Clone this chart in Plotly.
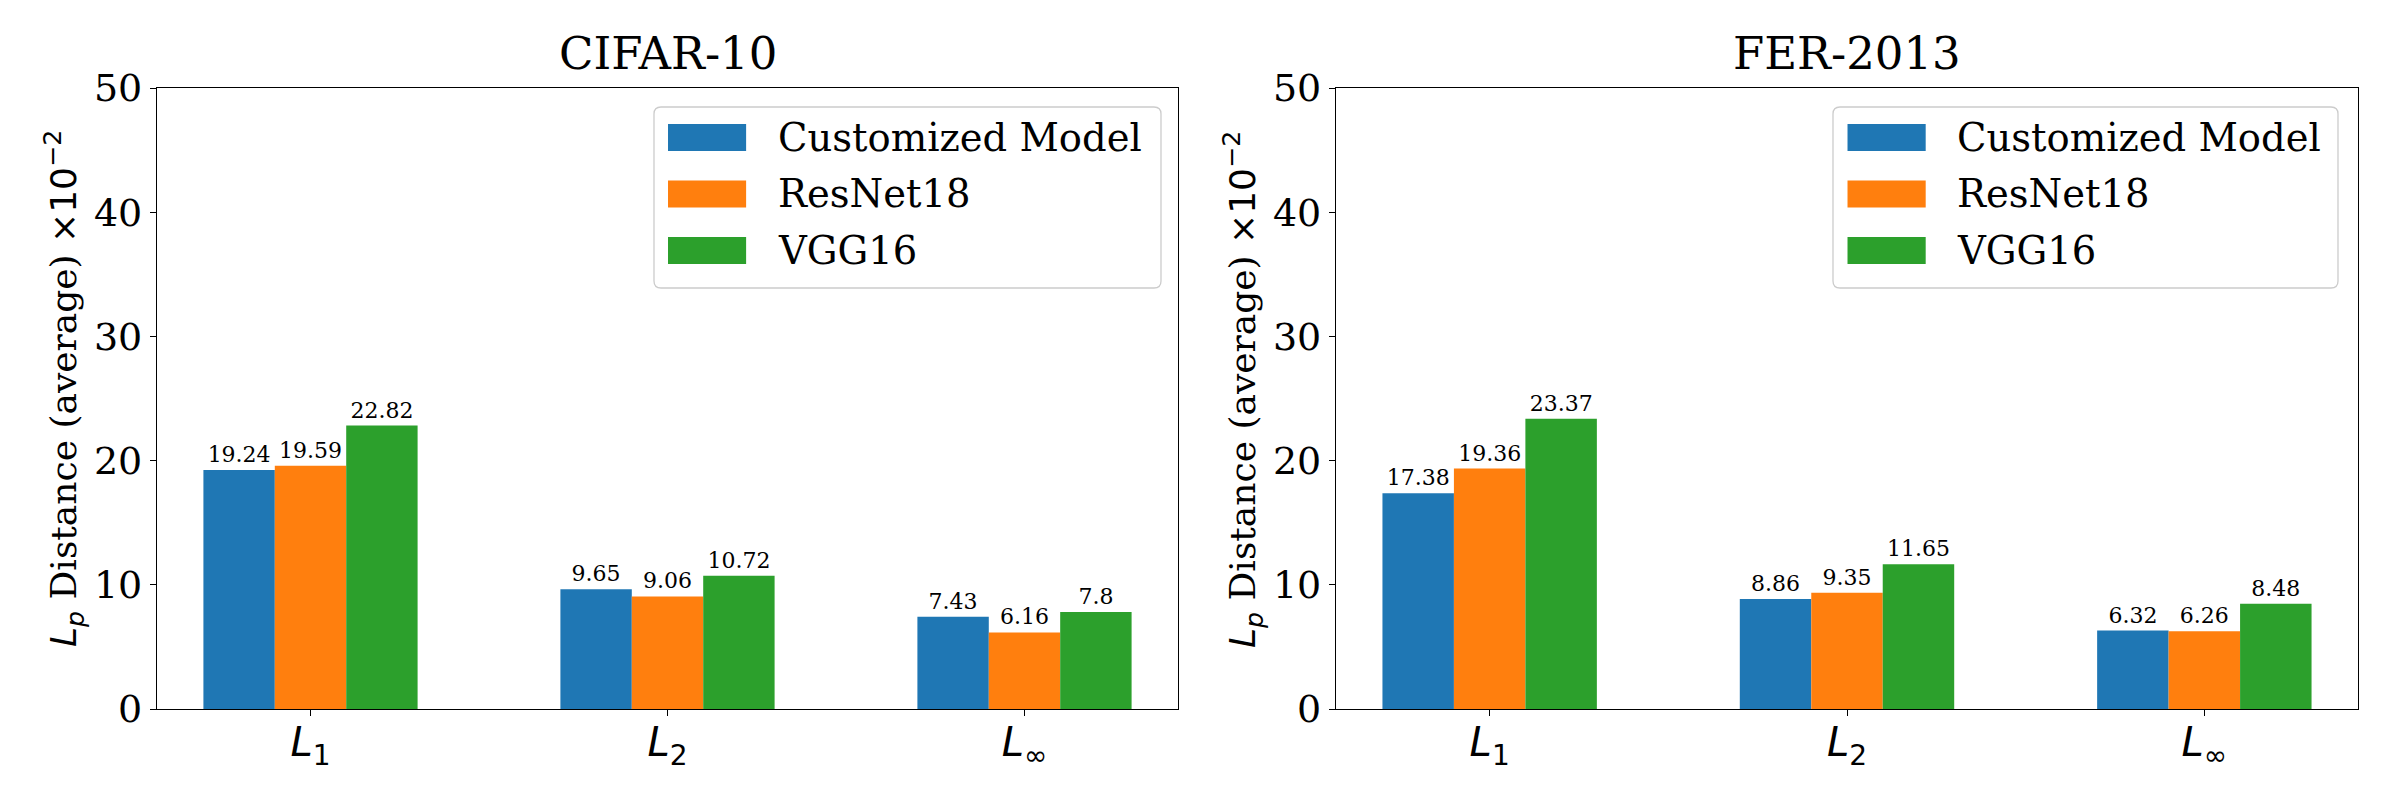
import plotly.graph_objects as go

categories = ["L1", "L2", "Linf"]
tick_labels = ["<i>L</i><sub>1</sub>", "<i>L</i><sub>2</sub>", "<i>L</i><sub>∞</sub>"]
series_names = ["Customized Model", "ResNet18", "VGG16"]
colors = ["#1f77b4", "#ff7f0e", "#2ca02c"]
panel_titles = ["CIFAR-10", "FER-2013"]

cifar_custom = [19.24, 9.65, 7.43]
cifar_resnet = [19.59, 9.06, 6.16]
cifar_vgg = [22.82, 10.72, 7.8]

fer_custom = [17.38, 8.86, 6.32]
fer_resnet = [19.36, 9.35, 6.26]
fer_vgg = [23.37, 11.65, 8.48]

panels = [[cifar_custom, cifar_resnet, cifar_vgg], [fer_custom, fer_resnet, fer_vgg]]

SERIF = "DejaVu Serif"
SANS = "DejaVu Sans"
W, H = 2400, 800
OFF = 8  # page body margin compensation (px)


def px_x(v):
    return (v - OFF) / W


def px_y(v):
    return 1 - (v - OFF) / H


def rounded_rect_path(x0, x1, y0, y1, r):
    # pixel coords (y downward) -> paper path with rounded corners
    X = lambda v: f"{px_x(v):.6f}"
    Y = lambda v: f"{px_y(v):.6f}"
    return (f"M{X(x0 + r)},{Y(y0)} L{X(x1 - r)},{Y(y0)} Q{X(x1)},{Y(y0)} {X(x1)},{Y(y0 + r)} "
            f"L{X(x1)},{Y(y1 - r)} Q{X(x1)},{Y(y1)} {X(x1 - r)},{Y(y1)} "
            f"L{X(x0 + r)},{Y(y1)} Q{X(x0)},{Y(y1)} {X(x0)},{Y(y1 - r)} "
            f"L{X(x0)},{Y(y0 + r)} Q{X(x0)},{Y(y0)} {X(x0 + r)},{Y(y0)} Z")


fig = go.Figure()

x_domains = [[px_x(157), px_x(1178)], [px_x(1336), px_x(2358)]]
y_domain = [px_y(709), px_y(88)]

for p, data in enumerate(panels):
    xa = "x" if p == 0 else "x2"
    ya = "y" if p == 0 else "y2"
    for s, vals in enumerate(data):
        fig.add_trace(go.Bar(
            x=categories, y=vals, name=series_names[s],
            marker=dict(color=colors[s], line=dict(width=0)),
            text=[str(v) for v in vals], textposition="outside",
            textfont=dict(family=SERIF, size=22, color="black"),
            constraintext="none", cliponaxis=False,
            xaxis=xa, yaxis=ya, showlegend=False, offsetgroup=str(s),
        ))

ytitle = ('<span style="font-family:DejaVu Sans"><i>L</i><sub><i>p</i></sub></span> '
          'Distance (average) '
          '<span style="font-family:DejaVu Sans">×10<sup>−2</sup></span>')

axis_common = dict(showline=True, linecolor="black", linewidth=1.3, mirror=True,
                   ticks="outside", ticklen=6, tickwidth=1.3, tickcolor="black",
                   showgrid=False, zeroline=False, automargin=False)

for p in range(2):
    sfx = "" if p == 0 else "2"
    fig.update_layout(**{
        "xaxis" + sfx: dict(domain=x_domains[p], anchor="y" + sfx,
                            type="category", categoryorder="array", categoryarray=categories,
                            range=[-0.43, 2.43], tickvals=categories, ticktext=tick_labels,
                            tickfont=dict(family=SANS, size=40, color="black"),
                            ticklabelstandoff=-8,
                            **axis_common),
        "yaxis" + sfx: dict(domain=y_domain, anchor="x" + sfx, range=[0, 50],
                            tickvals=[0, 10, 20, 30, 40, 50],
                            tickfont=dict(family=SERIF, size=38, color="black"),
                            **axis_common),
    })

# y-axis titles and panel titles
ytitle_x_px = [64, 1243]
title_x_px = [(157 + 1178) / 2, (1336 + 2358) / 2]
for p in range(2):
    fig.add_annotation(text=ytitle, xref="paper", yref="paper",
                       x=px_x(ytitle_x_px[p]), y=px_y(389), xanchor="center", yanchor="middle",
                       textangle=-90, showarrow=False,
                       font=dict(family=SERIF, size=36, color="black"))
    fig.add_annotation(text=panel_titles[p], xref="paper", yref="paper",
                       x=px_x(title_x_px[p]), y=px_y(82), xanchor="center", yanchor="bottom",
                       showarrow=False, font=dict(family=SERIF, size=45, color="black"))

# legends (one per panel)
legend_box_px = [(654, 1161), (1833, 2338)]
row_centers_px = [137.5, 194.0, 250.5]
for p in range(2):
    sfx = "" if p == 0 else "2"
    xr = "x" + sfx + " domain"
    yr = "y" + sfx + " domain"
    bx0, bx1 = legend_box_px[p]
    fig.add_shape(type="path", xref="paper", yref="paper",
                  path=rounded_rect_path(bx0, bx1, 107, 288, 7),
                  line=dict(color="#cccccc", width=1.3), fillcolor="rgba(255,255,255,0.8)", layer="above")
    for s in range(3):
        yc = (709 - row_centers_px[s]) / 621
        h = 13.5 / 621
        fig.add_shape(type="rect", xref=xr, yref=yr, x0=0.5005, x1=0.577,
                      y0=yc - h, y1=yc + h, fillcolor=colors[s], line=dict(width=0), layer="above")
        fig.add_annotation(text=series_names[s], xref=xr, yref=yr, x=0.606, y=yc,
                           xanchor="left", yanchor="middle", showarrow=False,
                           font=dict(family=SERIF, size=38.5, color="black"))

fig.update_layout(width=W, height=H, margin=dict(l=0, r=0, t=0, b=0, autoexpand=False),
                  paper_bgcolor="white", plot_bgcolor="white",
                  barmode="group", bargap=0.4, bargroupgap=0, showlegend=False)

fig.write_html("out.html")
